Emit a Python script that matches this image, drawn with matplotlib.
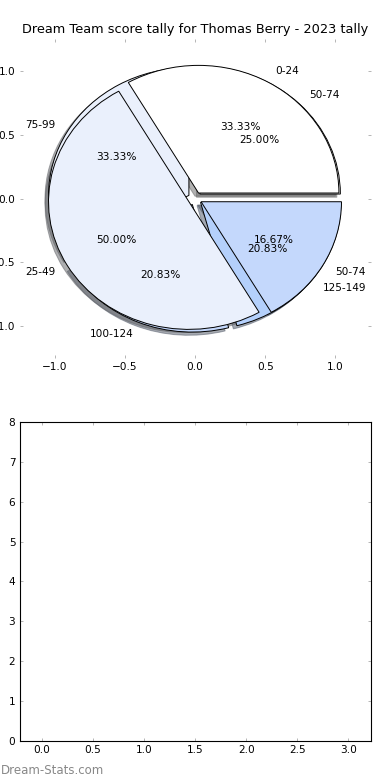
import matplotlib
matplotlib.use("Agg")
import matplotlib.pyplot as plt

# score bands and counts for the two tallies
labels_a = ['50-74', '75-99', '100-124', '125-149']
counts_a = [6, 8, 5, 5]
labels_b = ['0-24', '25-49', '50-74']
counts_b = [4, 6, 2]

colours = ['#ffffff', '#eaf0fc', '#c4d8fc', '#b4d0fb']
title = 'Dream Team score tally for Thomas Berry - 2023 tally'

xticks_top = [-1.0, -0.5, 0.0, 0.5, 1.0]
xticks_bottom = [0.0, 0.5, 1.0, 1.5, 2.0, 2.5, 3.0]
yticks_bottom = [0, 1, 2, 3, 4, 5, 6, 7, 8]

plt.rcParams['font.family'] = 'DejaVu Sans'
plt.rcParams['font.size'] = 7.6

fig, (ax1, ax2) = plt.subplots(2, 1, figsize=(3.9, 7.8), dpi=100)
fig.subplots_adjust(left=0.05, right=0.95, top=0.95, bottom=0.05, hspace=0.2)

wedge_style = {'linewidth': 0.7, 'edgecolor': 'black'}
shadow_style = {'ox': -0.018, 'oy': -0.018, 'shade': 0.6}

# first tally goes underneath, second one on top
ax1.pie(counts_a, labels=labels_a, colors=colours[:len(counts_a)],
        explode=[0.05] * len(counts_a), autopct='%1.2f%%', shadow=shadow_style,
        wedgeprops=wedge_style, frame=True)
ax1.pie(counts_b, labels=labels_b, colors=colours[:len(counts_b)],
        explode=[0.05] * len(counts_b), autopct='%1.2f%%', shadow=shadow_style,
        wedgeprops=wedge_style, frame=True)

ax1.set_aspect('auto')
ax1.set_xlim(-1.25, 1.25)
ax1.set_ylim(-1.25, 1.25)
ax1.set_xticks(xticks_top)
ax1.set_yticks(xticks_top)
ax1.set_frame_on(False)
ax1.set_title(title, fontsize=9.3, pad=4)

ax2.set_xlim(-0.215, 3.215)
ax2.set_ylim(0, 8)
ax2.set_xticks(xticks_bottom)
ax2.set_yticks(yticks_bottom)
for s in ax2.spines.values():
    s.set_linewidth(0.8)

for ax in (ax1, ax2):
    ax.tick_params(direction='in', top=True, right=True, length=2.5,
                   width=0.6, color='#aaaaaa', labelcolor='black', pad=3)

fig.text(0.003, 0.008, 'Dream-Stats.com', fontsize=8.5, color='#888888')

fig.savefig('out.png', dpi=100)
